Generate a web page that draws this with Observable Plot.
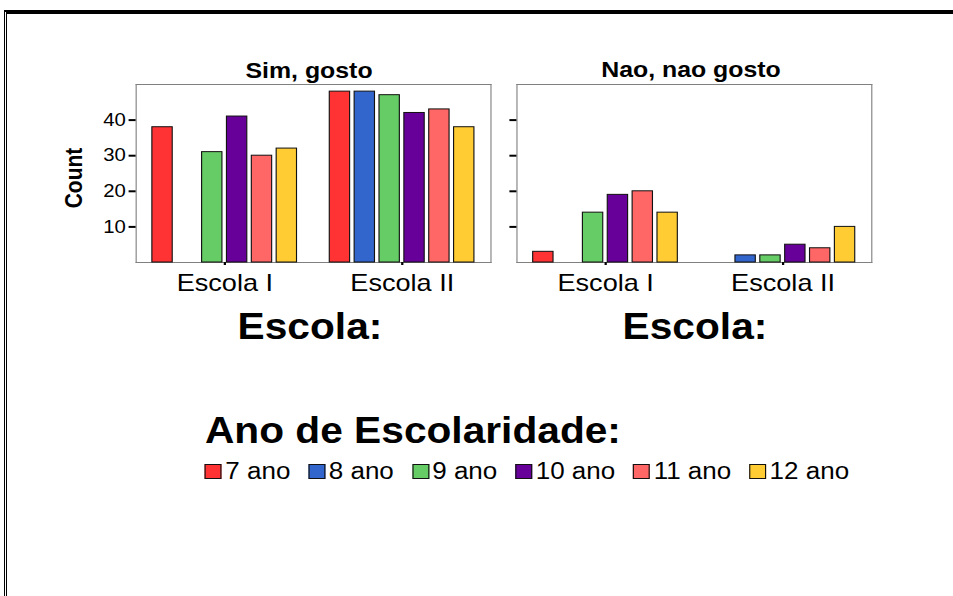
<!DOCTYPE html>
<html>
<head>
<meta charset="utf-8">
<script src="https://cdn.jsdelivr.net/npm/d3@7"></script>
<script src="https://cdn.jsdelivr.net/npm/@observablehq/plot@0.6"></script>
<style>
  html, body { margin: 0; padding: 0; background: #fff; overflow: hidden; width: 953px; height: 596px; }
  body { position: relative; font-family: "Liberation Sans", Arial, sans-serif; color: #000; }
  #border { position: absolute; left: 4px; top: 10px; right: -10px; bottom: -10px;
            border-top: 4px solid #000; border-left: 3px double #000; }
  #stage { position: absolute; left: 0; top: 0; width: 843px; height: 596px;
           transform: scaleX(1.13); transform-origin: 0 0; }
  .abs { position: absolute; white-space: nowrap; }
  .title { font-weight: bold; font-size: 22px; line-height: 22px; transform: translateX(-50%); }
  .big { font-weight: bold; font-size: 36px; line-height: 36px; }
  .center { transform: translateX(-50%); }
  .legend { display: flex; align-items: center; font-size: 23px; line-height: 23px; }
  .item { display: flex; align-items: center; margin-right: 16px; }
  .sw { width: 13px; height: 13px; border: 1px solid #111; margin-right: 3px; }
  .ylab { font-weight: bold; font-size: 21px; line-height: 21px; transform: translate(-50%, -50%) rotate(-90deg); }
  #stage svg g[aria-label="y-axis tick label"] text { font-size: 18px; }
  #stage svg g[aria-label="fx-axis tick label"] text { font-size: 24px; }
</style>
</head>
<body>
<div id="border"></div>
<div id="stage"></div>
<script>
// ---- data ----
const panels = ["Sim, gosto", "Nao, nao gosto"];
const escolas = ["Escola I", "Escola II"];
const anos = ["7 ano", "8 ano", "9 ano", "10 ano", "11 ano", "12 ano"];
const anoColors = ["#ff3333", "#3366cc", "#66cc66", "#660099", "#ff6666", "#ffcc33"];
const simEscolaI  = [38, 0, 31, 41, 30, 32];
const simEscolaII = [48, 48, 47, 42, 43, 38];
const naoEscolaI  = [3, 0, 14, 19, 20, 14];
const naoEscolaII = [0, 2, 2, 5, 4, 10];
const yTicks = [10, 20, 30, 40];
const yLabel = "Count";
const xTitle = "Escola:";
const legendTitle = "Ano de Escolaridade:";

function rows(a, b) {
  const out = [];
  [a, b].forEach((vals, i) => vals.forEach((v, j) => {
    if (v > 0) out.push({escola: escolas[i], ano: anos[j], count: v});
  }));
  return out;
}

const frameGray = "#808080";

function panel(data, {width, marginLeft, marginRight, labels}) {
  return Plot.plot({
    width, height: 240,
    marginLeft, marginRight, marginTop: 24, marginBottom: 38,
    style: {fontFamily: "'Liberation Sans', Arial, sans-serif", fontSize: "18px", color: "#000", background: "transparent", overflow: "visible"},
    fx: {domain: escolas, paddingInner: 0, paddingOuter: 0, label: null},
    x: {domain: anos, paddingInner: 0.16, paddingOuter: 0.55, axis: null},
    y: {domain: [0, 50]},
    color: {domain: anos, range: anoColors},
    marks: [
      Plot.frame({anchor: "top", stroke: frameGray}),
      Plot.frame({anchor: "bottom", stroke: frameGray}),
      Plot.frame({anchor: "left", facetAnchor: "left", stroke: frameGray}),
      Plot.frame({anchor: "right", facetAnchor: "right", stroke: frameGray}),
      Plot.barY(data, {fx: "escola", x: "ano", y: "count", fill: "ano", stroke: "#111", strokeWidth: 1}),
      Plot.axisY({ticks: yTicks, tickSize: 6.2, tickPadding: 3, strokeWidth: 2, fontSize: 18, label: null,
                  tickFormat: labels ? (d => d) : (() => "")}),
      Plot.axisFx({anchor: "bottom", tickSize: 3, tickPadding: 8, strokeWidth: 2, fontSize: 24, label: null})
    ]
  });
}

const stage = document.getElementById("stage");
function place(el, left, top) {
  const w = document.createElement("div");
  w.className = "abs";
  w.style.left = left + "px";
  w.style.top = top + "px";
  w.appendChild(el);
  stage.appendChild(w);
  return w;
}
function text(str, cls, left, top) {
  const d = document.createElement("div");
  d.className = "abs " + cls;
  d.style.left = left + "px";
  d.style.top = top + "px";
  d.textContent = str;
  stage.appendChild(d);
  return d;
}

place(panel(rows(simEscolaI, simEscolaII), {width: 440, marginLeft: 118.6, marginRight: 5.5, labels: true}), 0, 60);
place(panel(rows(naoEscolaI, naoEscolaII), {width: 340, marginLeft: 16.6, marginRight: 9.2, labels: false}), 440, 60);

text(panels[0], "title", 273.5, 59.7);
text(panels[1], "title", 611.5, 59);
text(yLabel, "ylab", 64.6, 178);
text(xTitle, "big center", 274.3, 308.8);
text(xTitle, "big center", 615.0, 308.8);
text(legendTitle, "big", 181.4, 412.8);

const legend = document.createElement("div");
legend.className = "abs legend";
legend.style.left = "181.4px";
legend.style.top = "459.8px";
anos.forEach((a, i) => {
  const it = document.createElement("div");
  it.className = "item";
  const sw = document.createElement("div");
  sw.className = "sw";
  sw.style.background = anoColors[i];
  const t = document.createElement("span");
  t.textContent = a;
  it.appendChild(sw);
  it.appendChild(t);
  legend.appendChild(it);
});
stage.appendChild(legend);
</script>
</body>
</html>
